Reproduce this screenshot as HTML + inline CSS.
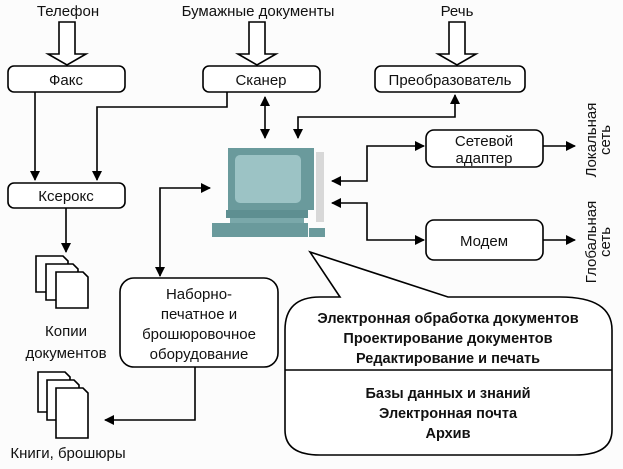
<!DOCTYPE html>
<html><head><meta charset="utf-8"><style>
body{margin:0;background:#fcfcfc}
text{font-family:"Liberation Sans",sans-serif;font-size:15px;fill:#111}
.b{font-weight:bold;font-size:14.5px}
</style></head><body>
<svg width="623" height="464" viewBox="0 0 623 464" xmlns="http://www.w3.org/2000/svg">
<defs><marker id="a" markerWidth="10" markerHeight="10" refX="9" refY="5" orient="auto" markerUnits="userSpaceOnUse"><path d="M0,0 L10,5 L0,10 z" fill="#000"/></marker>
<marker id="s" markerWidth="10" markerHeight="10" refX="1" refY="5" orient="auto" markerUnits="userSpaceOnUse"><path d="M10,0 L0,5 L10,10 z" fill="#000"/></marker></defs>
<g fill="none" stroke="#000" stroke-width="1.6">
<path d="M59,22 V54 H48 L67,65 L86,54 H75 V22 z" fill="#fff"/>
<path d="M249,22 V54 H238 L257,65 L276,54 H265 V22 z" fill="#fff"/>
<path d="M449,22 V54 H438 L457,65 L476,54 H465 V22 z" fill="#fff"/>
<rect x="8" y="66" width="117" height="26" rx="6" fill="#fff"/>
<rect x="203" y="66" width="117" height="26" rx="6" fill="#fff"/>
<rect x="375" y="66" width="150" height="26" rx="6" fill="#fff"/>
<rect x="8" y="183" width="117" height="25" rx="6" fill="#fff"/>
<rect x="426" y="130" width="117" height="37" rx="8" fill="#fff"/>
<rect x="426" y="220" width="117" height="40" rx="8" fill="#fff"/>
<rect x="120" y="278" width="158" height="89" rx="14" fill="#fff"/>
<path d="M35,92 V180" marker-end="url(#a)"/>
<path d="M227,92 V107 H97 V180" marker-end="url(#a)"/>
<path d="M265,97 V138" marker-start="url(#s)" marker-end="url(#a)" transform="translate(0,0)"/>
<path d="M455,95 V117 H298 V138" marker-start="url(#s)" marker-end="url(#a)"/>
<path d="M66,208 V252" marker-end="url(#a)"/>
<path d="M332,181 H367 V146 H424" marker-start="url(#s)" marker-end="url(#a)"/>
<path d="M332,203 H367 V240 H424" marker-start="url(#s)" marker-end="url(#a)"/>
<path d="M543,146 H575" marker-end="url(#a)"/>
<path d="M543,240 H575" marker-end="url(#a)"/>
<path d="M210,188 H160 V276" marker-start="url(#s)" marker-end="url(#a)"/>
<path d="M195,367 V420 H105" marker-end="url(#a)"/>
<path d="M36,256 H63 L68,261 V292 H36 z" fill="#fff"/>
<path d="M46,264 H73 L78,269 V300 H46 z" fill="#fff"/>
<path d="M56,272 H83 L88,277 V308 H56 z" fill="#fff"/>
<path d="M38,372 H65 L70,377 V412 H38 z" fill="#fff"/>
<path d="M47,380 H74 L79,385 V420 H47 z" fill="#fff"/>
<path d="M56,388 H83 L88,393 V438 H56 z" fill="#fff"/>
<path d="M340,297 L310,252 L448,297 H560 Q612,297 612,330 V430 Q612,455 575,455 H320 Q285,455 285,430 V330 Q285,297 320,297 z" fill="#fff"/>
<path d="M285,370 H612"/>
</g>
<g>
<rect x="316" y="152" width="8" height="70" fill="#d8d8d8"/>
<rect x="228" y="148" width="86" height="62" fill="#6a9a9c"/>
<rect x="235" y="155" width="66" height="48" rx="5" fill="#9cc3c5"/>
<rect x="226" y="210" width="82" height="8" fill="#5e8f91"/>
<rect x="230" y="218" width="74" height="5" fill="#7aa8aa"/>
<rect x="212" y="223" width="96" height="14" fill="#6a9a9c"/>
<rect x="309" y="228" width="16" height="9" fill="#6a9a9c"/>
</g>
<text x="68" y="16" text-anchor="middle">Телефон</text>
<text x="258" y="16" text-anchor="middle">Бумажные документы</text>
<text x="457" y="16" text-anchor="middle">Речь</text>
<text x="66" y="85" text-anchor="middle">Факс</text>
<text x="261" y="85" text-anchor="middle">Сканер</text>
<text x="450" y="85" text-anchor="middle">Преобразователь</text>
<text x="66" y="201" text-anchor="middle">Ксерокс</text>
<text x="484" y="146" text-anchor="middle">Сетевой</text>
<text x="484" y="163" text-anchor="middle">адаптер</text>
<text x="484" y="246" text-anchor="middle">Модем</text>
<text transform="translate(596,140) rotate(-90)" text-anchor="middle">Локальная</text>
<text transform="translate(610,140) rotate(-90)" text-anchor="middle">сеть</text>
<text transform="translate(596,242) rotate(-90)" text-anchor="middle">Глобальная</text>
<text transform="translate(610,242) rotate(-90)" text-anchor="middle">сеть</text>
<text x="199" y="299" text-anchor="middle">Наборно-</text>
<text x="199" y="319" text-anchor="middle">печатное и</text>
<text x="199" y="339" text-anchor="middle">брошюровочное</text>
<text x="199" y="359" text-anchor="middle">оборудование</text>
<text x="66" y="336" text-anchor="middle">Копии</text>
<text x="66" y="358" text-anchor="middle">документов</text>
<text x="68" y="458" text-anchor="middle">Книги, брошюры</text>
<text x="448" y="323" text-anchor="middle" class="b">Электронная обработка документов</text>
<text x="448" y="343" text-anchor="middle" class="b">Проектирование документов</text>
<text x="448" y="363" text-anchor="middle" class="b">Редактирование и печать</text>
<text x="448" y="398" text-anchor="middle" class="b">Базы данных и знаний</text>
<text x="448" y="418" text-anchor="middle" class="b">Электронная почта</text>
<text x="448" y="438" text-anchor="middle" class="b">Архив</text>
</svg>
</body></html>
